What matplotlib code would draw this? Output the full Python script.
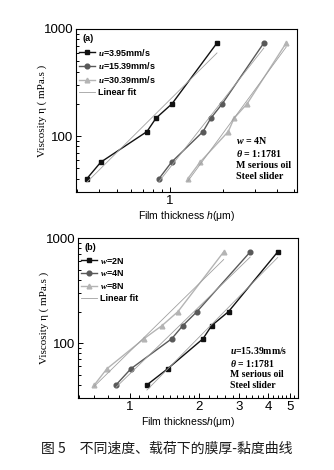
import numpy as np
import matplotlib
matplotlib.use("Agg")
import matplotlib.pyplot as plt
from matplotlib.ticker import FixedLocator, NullFormatter, FixedFormatter

plt.rcParams["font.family"] = ["Liberation Sans", "DejaVu Sans"]
plt.rcParams["mathtext.fontset"] = "custom"
plt.rcParams["mathtext.it"] = "Liberation Serif:italic"
plt.rcParams["mathtext.bf"] = "Liberation Serif:italic:bold"
plt.rcParams["mathtext.sf"] = "Liberation Sans:italic"
plt.rcParams["mathtext.rm"] = "Liberation Serif"

# Viscosity levels (mPa.s), shared by every series
viscosity = [40, 57, 110, 147, 200, 740]

# (a) film thickness (um) at different sliding speeds, load 4N
h_u395 = [0.34, 0.407, 0.741, 0.834, 1.026, 1.84]
h_u1539 = [0.867, 1.02, 1.535, 1.70, 1.97, 3.38]
h_u3039 = [1.26, 1.477, 2.13, 2.30, 2.72, 4.52]
labels_a = [r"$\mathbf{u}$=3.95mm/s", r"$\mathbf{u}$=15.39mm/s", r"$\mathbf{u}$=30.39mm/s"]

# (b) film thickness (um) at different loads, speed 15.39mm/s
h_w2 = [1.186, 1.46, 2.08, 2.27, 2.69, 4.40]
h_w4 = [0.87, 1.01, 1.52, 1.70, 1.96, 3.34]
h_w8 = [0.70, 0.794, 1.15, 1.38, 1.62, 2.56]
labels_b = [r"$\mathbf{w}$=2N", r"$\mathbf{w}$=4N", r"$\mathbf{w}$=8N"]

colors = ["#111111", "#595959", "#b4b4b4"]
markers = ["s", "o", "^"]
fit_color = "#a0a0a0"

fig = plt.figure(figsize=(3.34, 4.70), dpi=100)
ax1 = fig.add_axes([0.2275, 0.5915, 0.6617, 0.3468])
ax2 = fig.add_axes([0.2335, 0.1532, 0.659, 0.340])


def draw_panel(ax, series, labels):
    handles = []
    for h, lab, c, m in zip(series, labels, colors, markers):
        ln, = ax.plot(h, viscosity, color=c, marker=m, ms=3.4, lw=1.0,
                      mec=c, mfc=c, label=lab)
        handles.append(ln)
    fit_ln = None
    for h in series:
        lx, ly = np.log10(h), np.log10(viscosity)
        k, b = np.polyfit(lx, ly, 1)
        xs = np.array([min(h), max(h)])
        fit_ln, = ax.plot(xs, 10 ** (k * np.log10(xs) + b), color=fit_color,
                          lw=0.6, label="Linear fit")
    handles.append(fit_ln)
    ax.set_xscale("log")
    ax.set_yscale("log")
    ax.set_ylim(30, 1000)
    ax.set_yticks([100, 1000])
    ax.set_yticklabels(["100", "1000"])
    ax.tick_params(which="both", direction="in", top=False, right=False,
                   labelsize=9.5, width=0.7, pad=2)
    ax.tick_params(which="major", length=3.5)
    ax.tick_params(which="minor", length=2)
    for s in ax.spines.values():
        s.set_linewidth(0.8)
    ax.set_ylabel("Viscosity η ( mPa.s )", family="Liberation Serif", fontsize=8)
    ax.yaxis.set_label_coords(-0.13, 0.5)
    leg = ax.legend(handles=handles, loc="upper left", bbox_to_anchor=(-0.01, 0.925),
                    frameon=False, handlelength=1.7, handletextpad=0.4,
                    labelspacing=0.3, borderaxespad=0.2,
                    prop={"weight": "bold", "size": 6.5})
    return leg


draw_panel(ax1, [h_u395, h_u1539, h_u3039], labels_a)
ax1.set_xlim(0.295, 5.2)
ax1.xaxis.set_major_locator(FixedLocator([1]))
ax1.xaxis.set_major_formatter(FixedFormatter(["1"]))
ax1.xaxis.set_minor_locator(FixedLocator([0.3, 0.4, 0.5, 0.6, 0.7, 0.8, 0.9, 2, 3, 4, 5]))
ax1.xaxis.set_minor_formatter(NullFormatter())
ax1.set_xlabel(r"Film thickness $\mathsf{h}$(μm)", fontsize=7.5, labelpad=1.5)
ax1.text(0.03, 0.97, "(a)", transform=ax1.transAxes, fontsize=6.5,
         fontweight="bold", va="top")
ax1.text(0.725, 0.35, r"$\mathbf{w}$ = 4N" + "\n" + r"$\mathbf{\theta}$ = 1:1781"
         + "\nM serious oil\nSteel slider", transform=ax1.transAxes,
         family="Liberation Serif", fontweight="bold", fontsize=7.2,
         va="top", linespacing=1.25)

draw_panel(ax2, [h_w2, h_w4, h_w8], labels_b)
ax2.set_xlim(0.594, 5.4)
ax2.xaxis.set_major_locator(FixedLocator([1, 2, 3, 4, 5]))
ax2.xaxis.set_major_formatter(FixedFormatter(["1", "2", "3", "4", "5"]))
minor_b = list(np.round(np.arange(0.6, 2.0, 0.1), 2)) + list(np.round(np.arange(2.2, 5.4, 0.2), 2))
ax2.xaxis.set_minor_locator(FixedLocator([v for v in minor_b if v not in (1, 2, 3, 4, 5)]))
ax2.xaxis.set_minor_formatter(NullFormatter())
ax2.set_xlabel(r"Film thickness$\mathsf{h}$(μm)", fontsize=7.5, labelpad=1.5)
ax2.text(0.03, 0.97, "(b)", transform=ax2.transAxes, fontsize=6.5,
         fontweight="bold", va="top")
ax2.text(0.69, 0.33, r"$\mathbf{u}$=15.39mm/s" + "\n" + r"$\mathbf{\theta}$ = 1:1781"
         + "\nM serious oil\nSteel slider", transform=ax2.transAxes,
         family="Liberation Serif", fontweight="bold", fontsize=7.0,
         va="top", linespacing=1.2)

fig.text(0.5, 1 - 449 / 470, "图 5　不同速度、载荷下的膜厚-黏度曲线",
         family=["Noto Sans CJK SC", "DejaVu Sans"], fontsize=10,
         ha="center", va="center", color="#1a1a1a")

fig.savefig("out.png", dpi=100)
